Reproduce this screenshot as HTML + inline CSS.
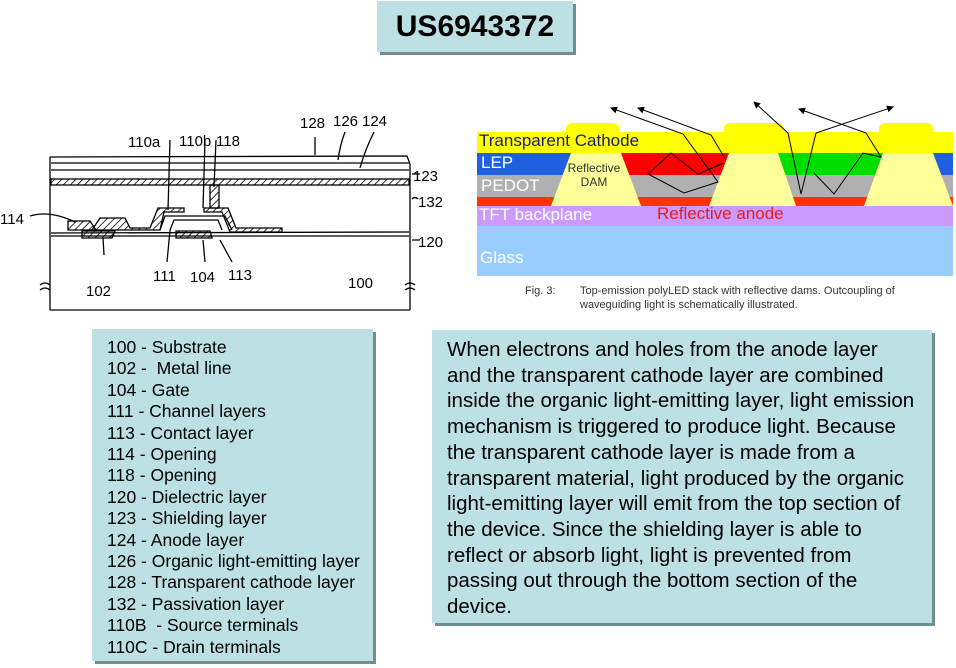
<!DOCTYPE html>
<html><head><meta charset="utf-8"><style>
body{margin:0;width:956px;height:668px;background:#fff;position:relative;overflow:hidden;font-family:"Liberation Sans",Arial,sans-serif}
.box{position:absolute;background:#bde0e4;box-shadow:3px 3px 0 #6f8d93;}
</style></head><body>
<div class="box" style="left:377px;top:1px;width:196px;height:51px;font-weight:bold;font-size:30px;text-align:center;line-height:51px;">US6943372</div>

<div class="box" style="left:92px;top:329px;width:281px;height:332px;"></div>
<div style="position:absolute;left:107px;top:337px;font-size:17.5px;line-height:21.4px;white-space:pre;">100 - Substrate
102 -  Metal line
104 - Gate
111 - Channel layers
113 - Contact layer
114 - Opening
118 - Opening
120 - Dielectric layer
123 - Shielding layer
124 - Anode layer
126 - Organic light-emitting layer
128 - Transparent cathode layer
132 - Passivation layer
110B  - Source terminals
110C - Drain terminals</div>

<div class="box" style="left:432px;top:330px;width:500px;height:293px;"></div>
<div style="position:absolute;left:447px;top:337px;font-size:20.5px;line-height:25.7px;white-space:pre;">When electrons and holes from the anode layer
and the transparent cathode layer are combined
inside the organic light-emitting layer, light emission
mechanism is triggered to produce light. Because
the transparent cathode layer is made from a
transparent material, light produced by the organic
light-emitting layer will emit from the top section of
the device. Since the shielding layer is able to
reflect or absorb light, light is prevented from
passing out through the bottom section of the
device.</div>

<svg style="position:absolute;left:0;top:0" width="956" height="668">
<defs>
<pattern id="h" width="5" height="5" patternUnits="userSpaceOnUse" patternTransform="rotate(45)"><line x1="0" y1="0" x2="0" y2="5" stroke="#000" stroke-width="1.6"/></pattern>
<marker id="a" markerWidth="7" markerHeight="7" refX="6" refY="3.5" orient="auto" markerUnits="userSpaceOnUse"><path d="M0,0L7,3.5L0,7z" fill="#000"/></marker>
</defs>
<g stroke="#000" fill="none" stroke-width="1.3">
<path d="M50,157 L407,156 L410,164"/>
<line x1="50" y1="157" x2="50" y2="310"/>
<line x1="410" y1="164" x2="410" y2="310"/>
<line x1="50" y1="310" x2="410" y2="310"/>
<line x1="51" y1="163" x2="409" y2="163"/>
<line x1="51" y1="170" x2="409" y2="170"/>
<rect x="51" y="179" width="358" height="6" fill="url(#h)"/>
<line x1="51" y1="233" x2="409" y2="232"/>
<line x1="51" y1="236" x2="409" y2="236"/>
<path d="M68,230 V221 H90 L96,230 Z" fill="url(#h)"/>
<path d="M82,238 V231 H115 L112,238 Z" fill="url(#h)"/>
<path d="M176,238 V231 H210 L212,238 Z" fill="url(#h)"/>
<path d="M92,230 L100,218 H125 L130,228 H150 L158,208 H184 V212 H164 L160,230 Z" fill="url(#h)"/>
<path d="M204,208 H228 L236,228 H282 V232 H230 L222,212 H204 Z" fill="url(#h)"/>
<path d="M210,185 H219 V208 H210 Z" fill="url(#h)"/>
<path d="M170,230 L174,220 H218 L222,230"/>
<path d="M160,230 L165,216 H225 L232,230"/>
<path d="M40,285 q5,-4 10,0 M40,290 q5,-4 10,0 M405,285 q5,-4 10,0 M405,290 q5,-4 10,0"/>
<path d="M315,137 V155 M345,132 Q340,145 338,160 M374,132 Q365,150 360,168"/>
<path d="M170,140 L168,210 M205,140 L203,208 M216,140 L214,187"/>
<path d="M412,174 H420 M412,199 Q415,196 418,199 M412,240 H420"/>
<path d="M30,216 Q50,210 75,222 M103,238 L104,255 M170,230 L167,262 M203,240 L205,262 M220,240 L232,262"/>
</g>
<g font-size="15" fill="#000">
<text x="300" y="128">128</text><text x="333" y="126">126</text><text x="362" y="126">124</text>
<text x="128" y="147">110a</text><text x="179" y="146">110b</text><text x="216" y="146">118</text>
<text x="413" y="181">123</text><text x="418" y="207">132</text><text x="418" y="247">120</text>
<text x="0" y="224">114</text><text x="86" y="296">102</text><text x="153" y="281">111</text>
<text x="190" y="282">104</text><text x="228" y="280">113</text><text x="348" y="288">100</text>
</g>
<rect x="477" y="132" width="476" height="21" fill="#ffff00"/>
<rect x="477" y="153" width="476" height="22" fill="#1f5fe0"/>
<rect x="477" y="175" width="476" height="22" fill="#b0b0b0"/>
<rect x="477" y="197" width="476" height="9" fill="#ff3300"/>
<rect x="477" y="206" width="476" height="20" fill="#cc99ff"/>
<rect x="477" y="226" width="476" height="50" fill="#99ccff"/>
<rect x="621" y="153" width="108" height="22" fill="#ff0000"/>
<rect x="778" y="153" width="105" height="22" fill="#00dd00"/>
<g fill="#ffff99">
<path d="M571,153 H621 L641,206 H551 Z"/><path d="M729,153 H778 L796,206 H709 Z"/><path d="M883,153 H933 L953,206 H864 Z"/>
</g>
<g fill="#ffff00">
<rect x="566" y="123" width="53" height="14" rx="6"/><rect x="724" y="123" width="60" height="14" rx="6"/><rect x="879" y="123" width="54" height="14" rx="6"/>
</g>
<g stroke="#000" stroke-width="1" fill="none" marker-end="url(#a)">
<path d="M724,163 L698,174 L671,153 L648,174 L684,193 L718,182 L683,134 L611,108"/>
<path d="M726,160 L711,135 L638,108"/>
<path d="M801,194 L788,133 L754,102"/>
<path d="M801,194 L816,133 L893,107"/>
<path d="M814,173 L834,194 L863,153 L881,157 L866,133 L799,109"/>
</g>
<g font-size="17">
<text x="479" y="146" fill="#1a1a80">Transparent Cathode</text>
<text x="481" y="168" fill="#fff">LEP</text>
<text x="481" y="191" fill="#fff">PEDOT</text>
<text x="479" y="220" fill="#fff">TFT backplane</text>
<text x="657" y="219" fill="#e02020">Reflective anode</text>
<text x="480" y="263" fill="#fff">Glass</text>
</g>
<g font-size="12" fill="#333" text-anchor="middle"><text x="594" y="172">Reflective</text><text x="594" y="186">DAM</text></g>
<g font-size="11" fill="#333"><text x="525" y="294">Fig. 3:</text><text x="580" y="294">Top-emission polyLED stack with reflective dams. Outcoupling of</text><text x="580" y="308">waveguiding light is schematically illustrated.</text></g>
</svg>
</body></html>
